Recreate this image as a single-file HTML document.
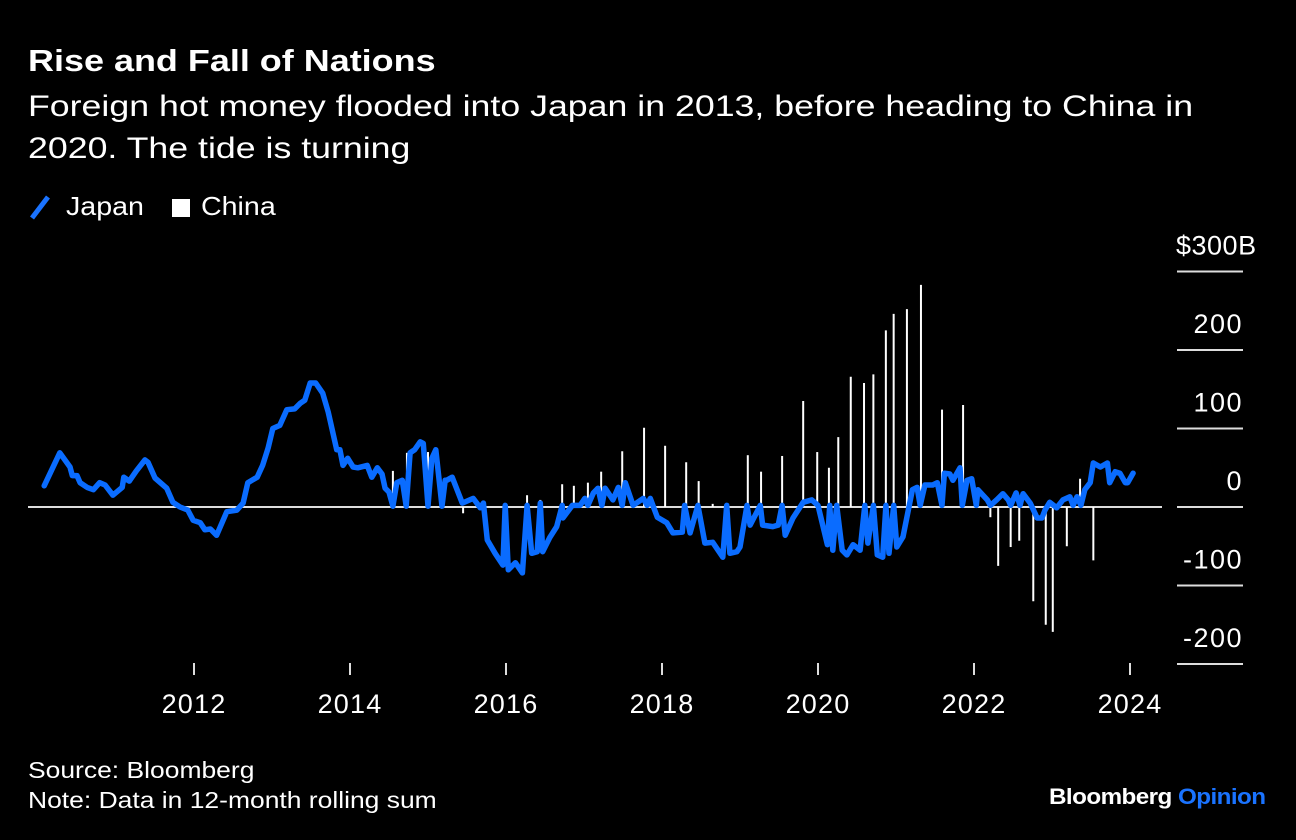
<!DOCTYPE html>
<html><head><meta charset="utf-8"><style>
html,body{margin:0;padding:0;background:#000;}
body{width:1296px;height:840px;position:relative;overflow:hidden;font-family:"Liberation Sans",Arial,sans-serif;color:#fff;}
.t{position:absolute;white-space:nowrap;transform-origin:0 0;}
</style></head><body>
<div class="t" style="left:28px;top:43px;font-size:31px;font-weight:bold;transform:scaleX(1.16);">Rise and Fall of Nations</div>
<div class="t" style="left:28px;top:86px;font-size:30px;line-height:42px;transform:scaleX(1.19);">Foreign hot money flooded into Japan in 2013, before heading to China in<br>2020. The tide is turning</div>
<div style="position:absolute;left:28px;top:190px;height:34px;">
  <div style="position:absolute;left:0;top:0;width:130px;height:34px;">
    <svg width="24" height="30" style="position:absolute;left:0;top:2px;"><line x1="4" y1="26" x2="20" y2="5" stroke="#1a73ff" stroke-width="5"/></svg>
    <span class="t" style="left:38px;top:1px;font-size:26px;transform:scaleX(1.1);">Japan</span>
  </div>
  <div style="position:absolute;left:144px;top:0;width:110px;height:34px;">
    <div style="position:absolute;left:0;top:9px;width:18px;height:18px;background:#fff;"></div>
    <span class="t" style="left:29px;top:1px;font-size:26px;transform:scaleX(1.1);">China</span>
  </div>
</div>
<svg id="chart" width="1296" height="840" style="position:absolute;left:0;top:0;"></svg>
<div class="t" style="left:28px;top:757px;font-size:23px;transform:scaleX(1.15);">Source: Bloomberg</div>
<div class="t" style="left:28px;top:787px;font-size:23px;transform:scaleX(1.15);">Note: Data in 12-month rolling sum</div>
<div class="t" style="left:1049px;top:784px;font-size:22px;font-weight:bold;letter-spacing:-0.5px;transform:scaleX(1.1);">Bloomberg <span style="color:#1a73ff;">Opinion</span></div>
<script>
const japanDates=[2010.08,2010.28,2010.41,2010.44,2010.50,2010.54,2010.63,2010.71,2010.79,2010.86,2010.96,2011.08,2011.10,2011.17,2011.26,2011.37,2011.41,2011.50,2011.65,2011.73,2011.82,2011.92,2011.99,2012.08,2012.14,2012.21,2012.29,2012.42,2012.55,2012.63,2012.69,2012.81,2012.88,2012.95,2013.01,2013.10,2013.19,2013.29,2013.36,2013.42,2013.49,2013.56,2013.65,2013.72,2013.83,2013.87,2013.91,2013.97,2014.04,2014.10,2014.22,2014.28,2014.35,2014.41,2014.45,2014.50,2014.55,2014.60,2014.67,2014.72,2014.77,2014.83,2014.90,2014.94,2015.00,2015.05,2015.10,2015.18,2015.22,2015.24,2015.31,2015.44,2015.58,2015.67,2015.71,2015.76,2015.86,2015.96,2015.99,2016.03,2016.12,2016.21,2016.27,2016.33,2016.40,2016.44,2016.47,2016.56,2016.65,2016.72,2016.73,2016.85,2016.95,2017.01,2017.05,2017.12,2017.18,2017.23,2017.27,2017.37,2017.44,2017.49,2017.53,2017.63,2017.76,2017.81,2017.85,2017.94,2018.06,2018.14,2018.26,2018.29,2018.36,2018.46,2018.55,2018.65,2018.78,2018.83,2018.87,2018.96,2019.00,2019.09,2019.13,2019.26,2019.29,2019.42,2019.49,2019.54,2019.58,2019.68,2019.81,2019.92,2020.00,2020.12,2020.15,2020.19,2020.24,2020.31,2020.37,2020.45,2020.54,2020.60,2020.64,2020.71,2020.76,2020.83,2020.87,2020.91,2020.97,2021.01,2021.09,2021.21,2021.27,2021.31,2021.37,2021.47,2021.53,2021.59,2021.62,2021.69,2021.73,2021.82,2021.85,2021.91,2021.97,2022.03,2022.05,2022.17,2022.21,2022.29,2022.37,2022.44,2022.47,2022.54,2022.59,2022.63,2022.72,2022.81,2022.87,2022.91,2022.97,2023.06,2023.14,2023.23,2023.27,2023.32,2023.37,2023.42,2023.49,2023.53,2023.62,2023.71,2023.74,2023.81,2023.87,2023.94,2023.97,2024.04];
const japanValues=[27,69,51,40,40,31,25,22,31,28,15,25,38,33,46,60,57,37,24,6,0,-4,-17,-20,-29,-28,-36,-6,-4,5,31,38,53,75,100,104,124,125,132,136,158,158,145,121,73,73,53,62,51,50,53,38,50,42,24,19,1,31,34,1,69,73,83,81,1,62,73,1,34,34,38,5,11,-1,5,-42,-59,-74,2,-80,-71,-84,2,-59,-57,5,-57,-39,-25,2,-14,2,2,11,2,18,24,2,24,9,25,2,31,2,11,2,11,-13,-20,-33,-32,2,-33,2,-46,-45,-64,2,-59,-57,-51,2,-23,2,-23,-25,-23,2,-36,-14,6,9,2,-48,2,-55,2,-55,-61,-48,-55,2,-46,2,-61,-64,2,-59,2,-51,-38,22,25,2,28,28,31,2,43,42,34,50,2,34,36,2,22,9,2,9,17,9,2,18,2,17,5,-14,-14,-4,6,-1,9,13,2,13,2,22,31,56,51,56,31,45,43,31,31,43];
const chinaDates=[2014.55,2014.73,2015.00,2015.45,2016.27,2016.44,2016.72,2016.87,2017.05,2017.22,2017.49,2017.77,2018.04,2018.31,2018.47,2018.65,2019.10,2019.27,2019.54,2019.81,2019.99,2020.14,2020.26,2020.42,2020.59,2020.71,2020.87,2020.97,2021.14,2021.32,2021.59,2021.86,2022.21,2022.31,2022.47,2022.58,2022.76,2022.92,2023.01,2023.19,2023.36,2023.53];
const chinaValues=[46,69,70,-8,15,9,29,27,31,45,71,101,78,57,33,4,66,45,65,135,70,50,89,166,158,169,225,246,252,283,124,130,-13,-75,-51,-43,-120,-150,-159,-50,36,-68];
const yTicks=[300,200,100,0,-100,-200];
const yTickLabels=["$300B","200","100","0","-100","-200"];
const xTicks=[2012,2014,2016,2018,2020,2022,2024];

const NS="http://www.w3.org/2000/svg";
const svg=document.getElementById('chart');
function xs(yr){return 194+(yr-2012)*78;}
function ys(v){return 507-v*0.785;}
function mk(tag,attrs){const e=document.createElementNS(NS,tag);for(const k in attrs)e.setAttribute(k,attrs[k]);svg.appendChild(e);return e;}
const FONT='Liberation Sans, Arial, sans-serif';

yTicks.forEach((v,i)=>{
  const g=mk('line',{x1:1177,x2:1243,y1:ys(v),y2:ys(v),stroke:'#ddd','stroke-width':2});
  
  
  const t=mk('text',{x:1243,y:ys(v)-17,fill:'#fff','font-size':27,'letter-spacing':1.5,'text-anchor':'end','font-family':FONT});
  if(i===0){t.setAttribute('text-anchor','start');t.setAttribute('x',1176);t.setAttribute('letter-spacing',0.5);}
  t.textContent=yTickLabels[i];
  
  
});
const z=mk('line',{x1:28,x2:1162,y1:ys(0),y2:ys(0),stroke:'#ddd','stroke-width':2});


xTicks.forEach(yr=>{
  const tk=mk('line',{x1:xs(yr),x2:xs(yr),y1:663,y2:675,stroke:'#ddd','stroke-width':2});
  
  
  const t=mk('text',{x:xs(yr),y:713,fill:'#fff','font-size':27,'letter-spacing':1.2,'text-anchor':'middle','font-family':FONT});
  t.textContent=String(yr);
  
  
});
chinaDates.forEach((d,i)=>{
  const b=mk('line',{x1:xs(d),x2:xs(d),y1:ys(0),y2:ys(chinaValues[i]),stroke:'#fff','stroke-width':2});
  
  
});
const pts=japanDates.map((d,i)=>xs(d).toFixed(1)+','+ys(japanValues[i]).toFixed(1)).join(' ');
const pl=mk('polyline',{points:pts,fill:'none',stroke:'#0a6cff','stroke-width':5.5,'stroke-linejoin':'round','stroke-linecap':'round'});


</script>
</body></html>
